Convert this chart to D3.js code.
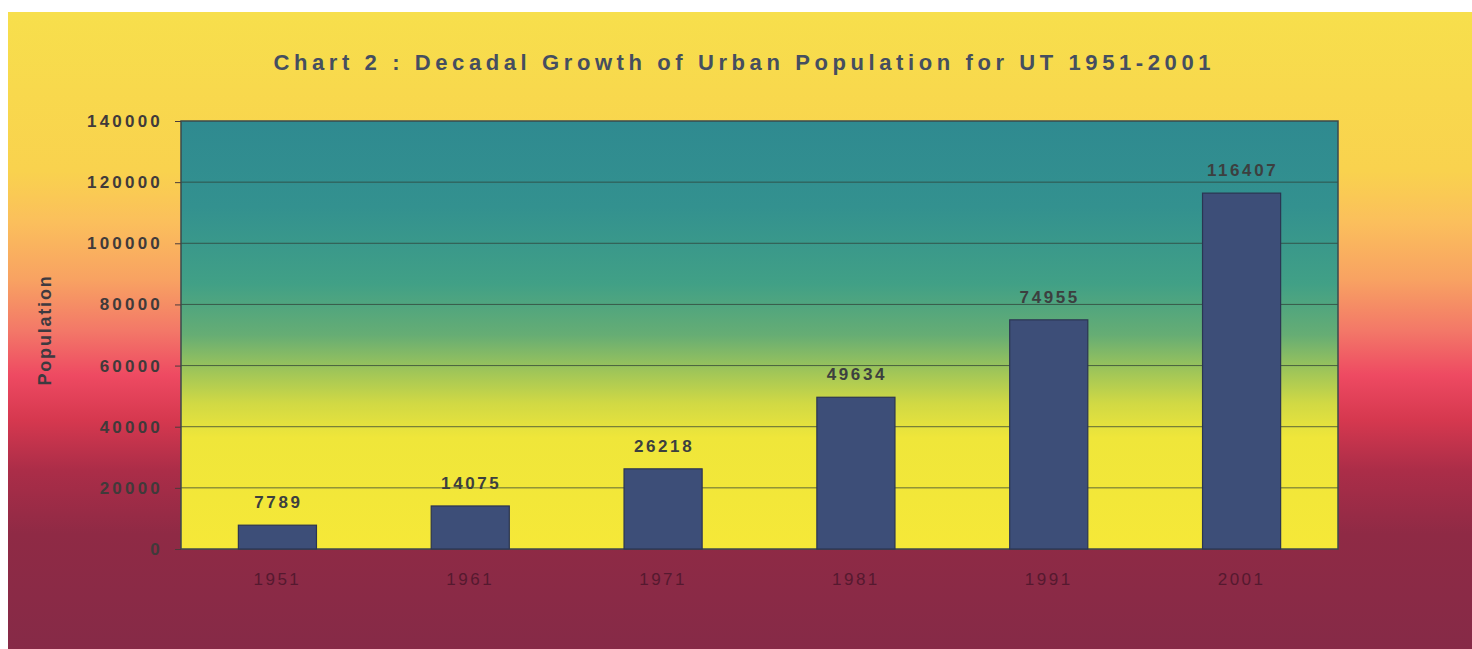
<!DOCTYPE html>
<html>
<head>
<meta charset="utf-8">
<script src="https://cdn.jsdelivr.net/npm/d3@7"></script>
<style>
  html, body { margin: 0; padding: 0; background: #ffffff; }
  svg { display: block; }
  text { font-family: "Liberation Sans", Arial, sans-serif; }
</style>
</head>
<body>
<svg id="chart" width="1472" height="649"></svg>
<script>
// Census years and urban population of the UT
const years = ["1951", "1961", "1971", "1981", "1991", "2001"];
const population = [7789, 14075, 26218, 49634, 74955, 116407];
const yTicks = [0, 20000, 40000, 60000, 80000, 100000, 120000, 140000];

const titleText = "Chart 2 : Decadal Growth of Urban Population for UT 1951-2001";
const yTitle = "Population";

const W = 1472, H = 649;
const margin = { left: 181, right: 134, top: 121, bottom: 100 };
const innerW = W - margin.left - margin.right;
const innerH = H - margin.top - margin.bottom;

const svg = d3.select("#chart");
const defs = svg.append("defs");

// Card background: yellow at top fading through orange and pink into crimson
const bg = defs.append("linearGradient")
  .attr("id", "cardGrad").attr("x1", 0).attr("y1", 0).attr("x2", 0).attr("y2", 1);
[
  [0.00, "#f7df4c"], [0.25, "#f9d24e"], [0.33, "#fbbf5c"], [0.42, "#f8a262"],
  [0.50, "#f37868"], [0.57, "#ee4a62"], [0.64, "#d6384f"], [0.72, "#ab2d48"],
  [0.82, "#8f2a45"], [1.00, "#862a47"]
].forEach(([o, c]) => bg.append("stop").attr("offset", o).attr("stop-color", c));

// Plot area: teal at the top turning green then yellow near the base
const pg = defs.append("linearGradient")
  .attr("id", "plotGrad").attr("x1", 0).attr("y1", 0).attr("x2", 0).attr("y2", 1);
[
  [0.00, "#2f8a90"], [0.20, "#33918f"], [0.38, "#41a086"], [0.50, "#66ad74"],
  [0.58, "#9cc45a"], [0.66, "#d1d944"], [0.74, "#efe63a"], [1.00, "#f6e838"]
].forEach(([o, c]) => pg.append("stop").attr("offset", o).attr("stop-color", c));

svg.append("rect")
  .attr("x", 8).attr("y", 12).attr("width", W - 8).attr("height", H - 12)
  .attr("fill", "url(#cardGrad)");

const g = svg.append("g").attr("transform", `translate(${margin.left},${margin.top})`);

const x = d3.scaleBand().domain(years).range([0, innerW])
  .paddingInner(0.595).paddingOuter(0.2975);
const y = d3.scaleLinear().domain([0, 140000]).range([innerH, 0]);

const data = years.map((yr, i) => ({ yr, v: population[i] }));

g.append("rect")
  .attr("x", 0).attr("y", 0).attr("width", innerW).attr("height", innerH)
  .attr("fill", "url(#plotGrad)");

// Horizontal gridlines
g.append("g")
  .selectAll("line")
  .data(yTicks.filter(d => d > 0 && d < 140000))
  .join("line")
  .attr("x1", 0).attr("x2", innerW)
  .attr("y1", d => y(d)).attr("y2", d => y(d))
  .attr("stroke", "#2f3f35").attr("stroke-opacity", 0.75).attr("stroke-width", 1);

// Plot frame
g.append("rect")
  .attr("x", 0).attr("y", 0).attr("width", innerW).attr("height", innerH)
  .attr("fill", "none").attr("stroke", "#3b4a4c").attr("stroke-width", 1.5);

// Bars
g.append("g")
  .selectAll("rect")
  .data(data)
  .join("rect")
  .attr("x", d => x(d.yr))
  .attr("y", d => y(d.v))
  .attr("width", x.bandwidth())
  .attr("height", d => innerH - y(d.v))
  .attr("fill", "#3d4e78")
  .attr("stroke", "#2b3552").attr("stroke-width", 1.2);

// Value labels above bars
g.append("g")
  .selectAll("text")
  .data(data)
  .join("text")
  .attr("x", d => x(d.yr) + x.bandwidth() / 2 + 1)
  .attr("y", d => y(d.v) - 17)
  .attr("text-anchor", "middle")
  .attr("font-size", 17)
  .attr("font-weight", "bold")
  .attr("letter-spacing", 2.6)
  .attr("fill", "#3c3f3f")
  .text(d => d.v);

// Y axis
const yAxis = g.append("g")
  .call(d3.axisLeft(y).tickValues(yTicks).tickSize(6).tickPadding(12).tickFormat(d3.format("d")));
yAxis.select(".domain").remove();
yAxis.selectAll(".tick line").attr("stroke", "#4a3a3a").attr("stroke-width", 1);
yAxis.selectAll(".tick text")
  .attr("font-size", 17)
  .attr("font-weight", "bold")
  .attr("letter-spacing", 3.2)
  .attr("fill", "#403a3a")
  .attr("font-family", "'Liberation Sans', Arial, sans-serif");

// X axis labels
const xAxis = g.append("g")
  .attr("transform", `translate(0,${innerH})`)
  .call(d3.axisBottom(x).tickSize(0).tickPadding(24));
xAxis.select(".domain").remove();
xAxis.selectAll(".tick text")
  .attr("font-size", 17)
  .attr("letter-spacing", 2.5)
  .attr("fill", "#55192f")
  .attr("font-family", "'Liberation Sans', Arial, sans-serif");

// Title
svg.append("text")
  .attr("x", 742).attr("y", 70)
  .attr("text-anchor", "middle")
  .attr("font-size", 22)
  .attr("font-weight", "bold")
  .attr("fill", "#454e60")
  .attr("textLength", 937)
  .attr("lengthAdjust", "spacing")
  .text(titleText);

// Y axis title
svg.append("text")
  .attr("transform", "translate(51,330) rotate(-90)")
  .attr("text-anchor", "middle")
  .attr("font-size", 18)
  .attr("font-weight", "bold")
  .attr("letter-spacing", 1.8)
  .attr("fill", "#3d3a40")
  .text(yTitle);
</script>
</body>
</html>
